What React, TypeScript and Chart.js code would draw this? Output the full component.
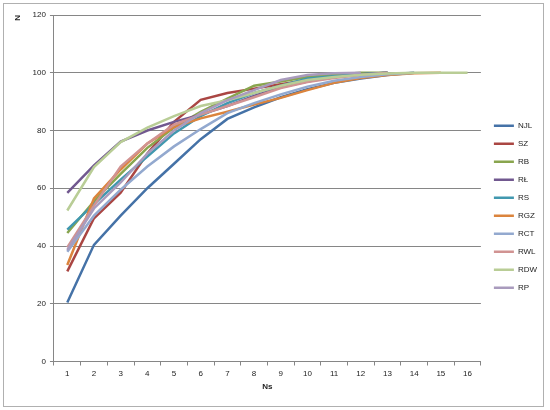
import React, { useEffect, useRef } from "react";
import { Chart, registerables } from "chart.js";

Chart.register(...registerables);

const categories = ["1", "2", "3", "4", "5", "6", "7", "8", "9", "10", "11", "12", "13", "14", "15", "16"];
const seriesNames = ["NJL", "SZ", "RB", "RŁ", "RS", "RGZ", "RCT", "RWL", "RDW", "RP"];
const seriesColors = ["#4572A7", "#AA4643", "#89A54E", "#71588F", "#4198AF", "#DB843D", "#93A9CF", "#D19392", "#B9CD96", "#A99BBD"];

const NJL = [20.4, 40.4, 50.5, 60, 68.5, 77, 84, 88, 91.5, 94.3, 96.5, 98, 99.2, 100];
const SZ = [31.2, 49.6, 58.5, 72, 83, 90.6, 93, 94.5, 96, 97.5, 98.5, 99.3, 100];
const RB = [44.5, 55.5, 65, 74, 81, 86.5, 91, 95.5, 97, 98.5, 99.3, 100, 100];
const RL = [58.4, 67.9, 76.2, 80, 83, 85.5, 88.5, 92, 95, 97, 98.5, 99.5, 100];
const RS = [45.7, 54.5, 63, 71, 79, 85, 89.5, 93, 95.5, 98, 98.8, 99.5, 100];
const RGZ = [33.4, 56.5, 66.5, 75.5, 81.2, 84.2, 86.5, 89, 91.3, 94, 96.5, 98.2, 99.2, 99.8, 100];
const RCT = [38, 50.5, 59.5, 67.5, 74.5, 80.5, 86, 89.5, 92.5, 95.2, 97.2, 98.5, 99.5, 100];
const RWL = [39.5, 54, 67.5, 75.5, 82, 85.5, 88.5, 91.5, 94.7, 96.8, 98.2, 99.3, 100];
const RDW = [52.3, 67.3, 76, 81, 85, 88.5, 90.5, 93, 95.5, 97.5, 98.5, 99.3, 99.7, 100, 100, 100];
const RP = [38.6, 53, 62, 72, 80, 86, 90.5, 94, 97.5, 99.2, 99.8, 100];

const seriesValues = [NJL, SZ, RB, RL, RS, RGZ, RCT, RWL, RDW, RP];
const yTicks = [0, 20, 40, 60, 80, 100, 120];

const FONT = "'Liberation Sans', Arial, sans-serif";

const legendShift = {
  id: "legendShift",
  afterLayout(chart: any) {
    if (chart.legend) {
      chart.legend.top += 3.5;
      chart.legend.bottom += 3.5;
      if (chart.legend.legendHitBoxes) {
        chart.legend.legendHitBoxes.forEach((h: any) => (h.top += 3.5));
      }
    }
  },
};

export default function App() {
  const ref = useRef<HTMLCanvasElement | null>(null);

  useEffect(() => {
    if (!ref.current) return;
    const n = seriesNames.length;
    const chart = new Chart(ref.current, {
      type: "line",
      data: {
        labels: categories,
        datasets: seriesNames.map((name, i) => ({
          label: name,
          data: seriesValues[i],
          borderColor: seriesColors[i],
          backgroundColor: seriesColors[i],
          borderWidth: 2.5,
          pointRadius: 0,
          pointHoverRadius: 0,
          tension: 0,
          fill: false,
          order: n - i,
        })),
      },
      options: {
        animation: false,
        responsive: false,
        layout: { padding: { left: 13, top: 15, right: 3, bottom: 18.3 } },
        plugins: {
          tooltip: { enabled: false },
          legend: {
            position: "right",
            labels: {
              usePointStyle: true,
              pointStyle: "line",
              pointStyleWidth: 20,
              padding: 10,
              color: "#222",
              font: { family: FONT, size: 8 },
              sort: (a: any, b: any) => a.datasetIndex - b.datasetIndex,
            },
          },
        },
        scales: {
          x: {
            offset: true,
            grid: {
              offset: true,
              drawOnChartArea: false,
              drawTicks: true,
              tickLength: 4,
              color: "#868686",
            },
            border: { color: "#868686", width: 1 },
            ticks: { color: "#222", font: { family: FONT, size: 8 }, padding: 3, maxRotation: 0 },
            title: {
              display: true,
              text: "Ns",
              color: "#222",
              font: { family: FONT, size: 8, weight: "bold" },
              padding: { top: 1, bottom: 0 },
            },
          },
          y: {
            min: 0,
            max: 120,
            afterBuildTicks: (axis: any) => {
              axis.ticks = yTicks.map((v) => ({ value: v }));
            },
            grid: { color: "#868686", lineWidth: 1, drawTicks: true, tickLength: 4 },
            border: { color: "#868686", width: 1 },
            ticks: { color: "#222", font: { family: FONT, size: 8 }, padding: 4 },
            title: {
              display: true,
              text: "N",
              align: "end",
              color: "#222",
              font: { family: FONT, size: 8, weight: "bold" },
              padding: { top: 0, bottom: 6 },
            },
          },
          yRightSpacer: {
            position: "right",
            display: true,
            min: 0,
            max: 1,
            grid: { display: false, drawTicks: false },
            border: { display: false },
            ticks: { display: false },
            afterFit: (s: any) => {
              s.width = 3;
            },
          },
        },
      },
      plugins: [legendShift],
    });
    return () => chart.destroy();
  }, []);

  return (
    <div style={{ position: "fixed", left: 0, top: 0, width: 550, height: 410, background: "#fff" }}>
      <div
        style={{
          position: "absolute",
          left: 3,
          top: 3,
          width: 539,
          height: 402,
          border: "1px solid #b0b0b0",
        }}
      />
      <canvas ref={ref} width={550} height={410} style={{ position: "absolute", left: 0, top: 0 }} />
    </div>
  );
}
